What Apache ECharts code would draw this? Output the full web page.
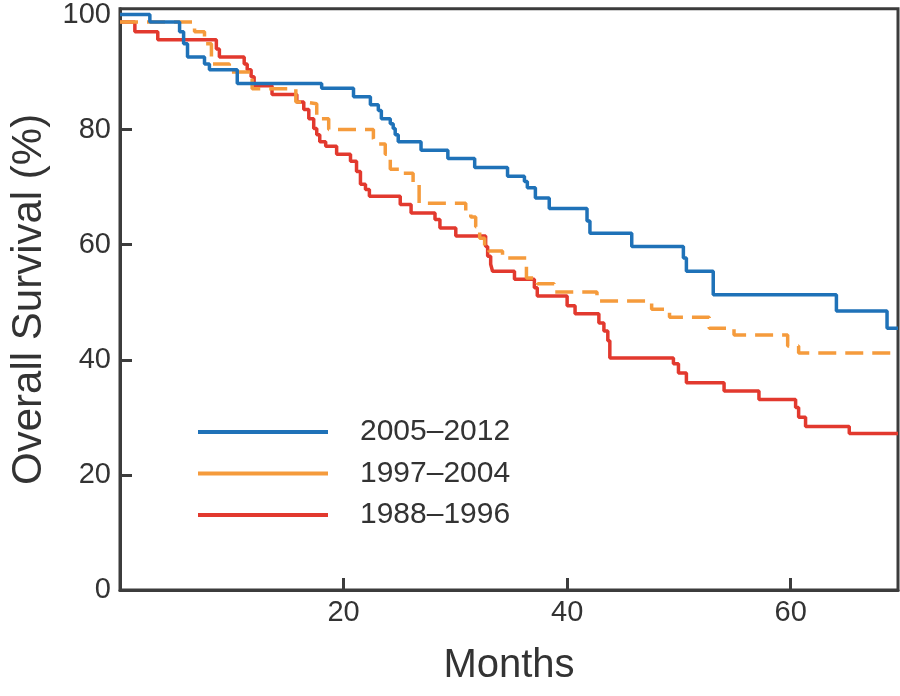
<!DOCTYPE html>
<html>
<head>
<meta charset="utf-8">
<script src="https://cdn.jsdelivr.net/npm/echarts@6/dist/echarts.min.js"></script>
<style>html,body{margin:0;padding:0;background:#fff}#c{width:900px;height:696px}</style>
</head>
<body>
<div id="c"></div>
<script>
const seriesNames = ['2005\u20132012', '1997\u20132004', '1988\u20131996'];
const xTicks = [20, 40, 60];
const yTicks = [0, 20, 40, 60, 80, 100];

const months2005 = [0, 2.67, 5.33, 5.69, 6.04, 7.56, 8.0, 10.49, 18.04, 20.89, 22.4, 23.11, 23.38, 24.18, 24.44, 24.62, 24.89, 26.93, 29.33, 31.73, 34.67, 36.18, 36.44, 37.16, 38.4, 41.78, 42.04, 45.78, 50.4, 50.67, 53.07, 64.09, 68.62, 69.6];
const surv2005 = [100, 98.7, 97.0, 94.9, 92.6, 91.4, 90.4, 88.0, 87.2, 85.7, 84.3, 83.3, 81.9, 81.0, 80.2, 79.1, 77.9, 76.4, 75.0, 73.4, 71.9, 71.0, 69.9, 68.1, 66.3, 64.1, 62.0, 59.7, 57.7, 55.4, 51.3, 48.5, 45.5, 45.5];

const months1997 = [0, 6.67, 7.56, 8.18, 9.78, 11.82, 15.73, 16.44, 17.6, 18.67, 22.67, 22.84, 23.73, 24.18, 25.16, 26.22, 26.76, 30.93, 31.38, 31.82, 32.18, 32.62, 32.98, 34.22, 36.36, 37.33, 38.84, 42.67, 47.56, 49.16, 52.71, 54.93, 59.73, 60.71, 69.6];
const surv1997 = [98.7, 97.0, 94.9, 91.4, 90.0, 87.1, 84.8, 84.5, 81.9, 80.0, 78.4, 77.5, 75.7, 73.1, 72.4, 70.8, 67.2, 65.8, 64.8, 63.1, 61.1, 59.7, 58.9, 57.7, 54.2, 53.2, 51.8, 50.2, 48.8, 47.4, 45.5, 44.3, 42.4, 41.2, 41.2];

const months1988 = [0, 1.33, 3.38, 8.62, 8.89, 11.11, 11.38, 11.73, 12.0, 13.6, 15.82, 16.44, 16.89, 17.33, 17.6, 17.87, 18.4, 19.38, 20.62, 21.16, 21.51, 21.96, 22.31, 25.07, 26.04, 28.18, 28.62, 30.04, 32.71, 32.89, 33.16, 33.33, 35.29, 37.07, 37.33, 40.0, 40.71, 42.84, 43.29, 43.64, 43.82, 49.51, 49.96, 50.67, 54.04, 57.16, 60.44, 60.71, 61.33, 65.24, 69.6];
const surv1988 = [98.7, 97.0, 95.6, 94.0, 92.6, 91.4, 90.4, 89.2, 87.6, 86.1, 84.8, 83.5, 81.9, 80.2, 79.1, 77.9, 77.1, 75.7, 74.5, 72.7, 70.5, 69.6, 68.4, 67.0, 65.5, 64.4, 62.9, 61.5, 59.7, 58.0, 56.6, 55.4, 54.0, 52.5, 51.1, 49.4, 48.0, 46.4, 45.0, 43.3, 40.3, 39.3, 37.7, 36.0, 34.6, 33.1, 31.7, 30.0, 28.4, 27.2, 27.2];

const colors = ['#1f72b8', '#f59b3c', '#e2392e'];
const axisColor = '#3c3c3c';
const textColor = '#333333';
const font = 'Liberation Sans, Arial, sans-serif';

function pairs(xs, ys) { return xs.map((x, i) => [x, ys[i]]); }

const chart = echarts.init(document.getElementById('c'), null, {renderer: 'canvas'});
chart.setOption({
  animation: false,
  backgroundColor: '#ffffff',
  grid: {left: 115, right: 2, top: 7, bottom: 106, show: true, borderColor: axisColor, borderWidth: 3, backgroundColor: 'transparent'},
  legend: {
    orient: 'vertical', left: 193, top: 412,
    icon: 'rect',
    itemWidth: 130, itemHeight: 4, itemGap: 11.5,
    textStyle: {fontFamily: font, fontSize: 30, color: textColor, padding: [0, 0, 0, 27]},
    data: seriesNames
  },
  xAxis: {
    type: 'value', min: 0, max: 69.6,
    name: 'Months', nameLocation: 'middle', nameGap: 56,
    nameTextStyle: {fontFamily: font, fontSize: 40, color: textColor},
    axisLine: {show: true, lineStyle: {color: axisColor, width: 3}},
    axisTick: {show: true, inside: true, length: 12, customValues: xTicks, lineStyle: {color: axisColor, width: 3}},
    axisLabel: {customValues: xTicks, fontFamily: font, fontSize: 29, color: textColor, margin: 8},
    splitLine: {show: false}
  },
  yAxis: {
    type: 'value', min: 0, max: 101,
    name: 'Overall Survival (%)', nameLocation: 'middle', nameGap: 70,
    nameTextStyle: {fontFamily: font, fontSize: 42, color: textColor},
    axisLine: {show: true, lineStyle: {color: axisColor, width: 3}},
    axisTick: {show: true, inside: true, length: 12, customValues: [20, 40, 60, 80], lineStyle: {color: axisColor, width: 3}},
    axisLabel: {customValues: yTicks, fontFamily: font, fontSize: 29, color: textColor, margin: 9},
    splitLine: {show: false}
  },
  series: [
    {name: seriesNames[2], type: 'line', step: 'end', symbol: 'none', data: pairs(months1988, surv1988), lineStyle: {color: colors[2], width: 3.5}, itemStyle: {color: colors[2]}, z: 3},
    {name: seriesNames[1], type: 'line', step: 'end', symbol: 'none', data: pairs(months1997, surv1997), lineStyle: {color: colors[1], width: 3.5, type: [18, 9]}, itemStyle: {color: colors[1]}, z: 4},
    {name: seriesNames[0], type: 'line', step: 'end', symbol: 'none', data: pairs(months2005, surv2005), lineStyle: {color: colors[0], width: 3.5}, itemStyle: {color: colors[0]}, z: 5}
  ]
});
</script>
</body>
</html>
